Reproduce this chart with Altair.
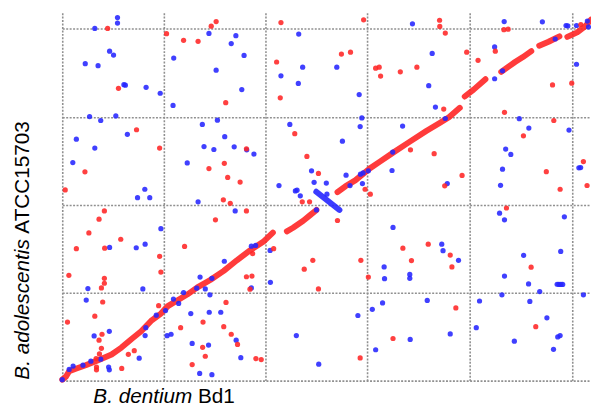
import altair as alt
import pandas as pd

# Positions along each genome (scaled units; gridlines mark equal genome intervals)
x_grid = [0, 103, 206, 309, 413, 517]
y_grid = [0, 89, 178.5, 267, 357]

blue_x = [56, 56, 33, 48, 52, 23.3, 36.3, 62.5, 64, 85, 99.3, 112.3, 113, 27.7, 54.3, 39, 66, 14.3, 33, 10.7,
          126.7, 83.7, 76.3, 88.7, 100, 48, 75, 84, 26, 81.7, 24.3, 47.7, 32.3, 84, 78, 47, 47.7, 106.3, 110.3, 130.3,
          131.7, 0, 7, 11, 21, 29, 39, 84.7, 95.3, 104.7, 112.7, 123, 118, 136.3, 151.7, 191.7, 196, 257.7,
          137.7, 175.3, 164.3, 139.7, 145, 191.7, 210.7, 211, 149.7, 149, 160.7, 176.3, 148.3, 181, 139.3, 151.7,
          237.3, 260, 148.7, 176, 171.3, 184.3, 156, 182, 239.7, 243.7, 221.7, 239.3, 142, 157.3, 164.7, 143.7,
          153.7, 174.3, 187, 194.3, 230.7, 252.7, 255.3, 219.7, 236.3, 238, 241.3, 267.7, 268.3,
          355, 278.3, 375, 371.5, 301, 378.3, 303.7, 302, 345, 284, 334.3, 287.7, 304.3, 390.3,
          291.7, 302.3, 305, 310.3, 335, 388.3,
          448, 486.7, 510.7, 512.5, 521.3, 532.3, 438.3, 438.3, 446.3, 499.7, 533.5, 521.3, 463.3, 473, 513.7,
          449.5, 454.7, 446.3, 523.7, 525.5, 444.3,
          317.7, 335.3, 384.7, 386, 401.7, 326.3, 352.3, 352.3, 326.7, 370, 324.7, 314.3, 299.7, 352.7, 393.3,
          443.3, 448.3, 509, 467.7, 505.3, 448.3, 472.7, 501.7, 503.5, 505.5, 507.3, 484, 445.7, 528.3, 423, 474,
          491.3, 419.7, 502.3, 504.7, 458.3, 498]
blue_y = [368, 362.5, 357, 334, 330, 321.3, 319.3, 300, 299.5, 297.3, 291.3, 279, 327, 267.7, 268.3, 263.7, 249.7,
          244.7, 235.7, 221, 220.7, 194, 185.5, 185.5, 154, 135, 134.7, 138.3, 93.3, 93, 81.7, 50, 45.3, 45.7, 22.7,
          13.7, 11, 45.5, 47, 68, 37.7, 1, 11.3, 14.7, 15.7, 19.7, 21.7, 53.7, 66.3, 71, 82.7, 89.3, 78.3, 93.7,
          103.7, 136.3, 137, 173,
          181.3, 172, 121, 105, 93, 94, 132, 99.7, 87, 69.3, 69.3, 41, 36, 23.3, 7.3, 6, 45.7, 16.7,
          352, 349.7, 341.7, 329.7, 314.7, 295, 351.3, 317.7, 309, 301.3, 259.7, 264, 247.3, 237.3, 234.3, 237,
          234, 229.7, 259.7, 212.7, 201, 197.7, 192.3, 193, 187.3, 200.3, 189,
          361.7, 317.7, 331.7, 299, 290, 277.3, 266.3, 257.5, 258, 242.7, 213, 208.3, 199.7, 199.7,
          197.7, 209.3, 210.5, 212.7, 231.7, 265.7,
          364, 363.7, 360, 359.5, 360, 364.5, 338.3, 306, 314, 346.3, 358.5, 320.7, 265.5, 256, 254, 234.7, 229.3,
          214.3, 215.7, 216, 198,
          31.3, 155.3, 138.3, 131.7, 122, 115.3, 107.7, 103.7, 103.3, 81.3, 78.7, 72.3, 66, 41.7, 47.3,
          169.7, 163, 166, 127, 131, 106, 98, 97.7, 97.5, 97.5, 97.5, 90.3, 87, 87, 80.7, 80.3, 63.7, 53.7, 44.3,
          45.7, 40, 31.7]

red_x = [46, 105.7, 123, 57, 75.3, 98.7, 23, 3, 42.7, 37.3, 27, 59.3, 14.3, 43, 98.7, 6.7, 42.7, 42.7, 39.7, 100,
         124, 41, 97.7, 5.3, 33, 40.3, 37.3, 39.7, 37.7, 73, 67, 34.3, 34.7, 34.7, 60.3, 120, 131.7,
         163.3, 170.3, 186.7, 155.3, 186.7, 192.3, 190.3, 193, 214.3, 245.3, 254, 259.7, 243.3, 250.7, 166, 142.7,
         163.7, 171.3, 177.7, 142.3, 145, 196.3, 201.7,
         156, 151, 137.7, 165.7, 221.7, 217.3, 221, 186.7, 164.3, 148.7, 167.7, 180.3, 235.7, 248, 259.7,
         305.5, 382.5, 382.7, 388.3, 283, 292.2, 317.7, 321.3, 322.7, 342.7, 359.5, 386.7, 353, 377, 405.3, 387.7,
         307, 312.3, 450.3, 410, 421.5, 447.7, 452, 439, 525.7, 516.5, 497, 448.3, 498.3, 467.5, 528.3, 490.7,
         504.7, 532,
         279, 302.7, 345.3, 371, 393.3, 395, 354, 310.3, 399, 335.3, 302, 475.3, 480]
red_y = [357, 351.7, 345, 296.3, 254.3, 235.7, 211.7, 193.3, 172, 163.7, 149.7, 143.3, 133.7, 134.3, 126, 106.7,
         103.7, 98.7, 94, 110, 136, 79.7, 76, 59.3, 65.3, 47, 41, 32.7, 27, 30.3, 26.7, 22.3, 13.7, 11, 12.3, 53.7,
         16.3,
         183.3, 179.7, 172, 163, 105.3, 106, 92.7, 128.7, 133.7, 113, 122, 93, 181.3, 181.3, 79.3, 59.3, 54.7, 47,
         36.7, 33.7, 24.7, 22.3, 21.3,
         364, 359.3, 344, 281.7, 363, 323, 286.7, 235, 220.3, 215, 206, 201.3, 250.3, 227.3, 210,
         365.7, 365.3, 359, 352.3, 331, 333, 316.7, 317.7, 308.7, 313, 317.7, 275.3, 234, 230, 208, 197.5,
         194, 189, 175, 333, 324.7, 355.7, 356.3, 334, 361, 301.5, 299.7, 272, 263.7, 248.2, 222, 211.8,
         194, 197.8,
         162.3, 122, 134.3, 138.3, 127.3, 115.3, 121.7, 105, 73.7, 42.7, 23, 115, 54.7]

# Collinear runs (polyline vertices) of matching segments, by run
run_ids = ["A"] * 22 + ["B"] * 5 + ["INV"] * 2 + ["C"] * 11 + ["E"] * 3 + ["F"] * 5 + ["G"] * 3 + ["H"] * 4
run_x = [0, 3.7, 7, 13.7, 23.7, 37, 50, 60, 70, 80, 90, 100, 107, 117, 127, 137, 150, 163.7, 177, 190.3, 203.7, 213.5,
         227.7, 234, 244.3, 251, 257.7,
         257.5, 281,
         279, 287, 297, 311.7, 322, 336, 352, 369, 383, 392, 403,
         408, 417, 429,
         445, 452, 459, 467, 475.5,
         483.5, 493, 504,
         512, 522, 530, 536]
run_y = [1, 4, 9.5, 12, 15.5, 21, 26.5, 33.5, 42, 50, 60.5, 68, 75.5, 81.5, 87.5, 94.5, 102, 111.3, 122, 132, 140.7, 150,
         151.3, 155, 162, 167.5, 173,
         191.5, 173,
         191, 197, 203, 215, 222, 231.5, 242, 253, 261.5, 267, 276.5,
         288, 295, 305.5,
         313, 318, 323, 328, 334,
         339.5, 343.5, 349,
         348.5, 353, 359, 366]

RED = "#ff2626"
BLUE = "#2626ff"

pts = pd.DataFrame({
    "x": blue_x + red_x,
    "y": blue_y + red_y,
    "strand": ["rev"] * len(blue_x) + ["fwd"] * len(red_x),
})
runs = pd.DataFrame({"x": run_x, "y": run_y, "run": run_ids,
                     "order": list(range(len(run_x)))})
runs["strand"] = ["rev" if r == "INV" else "fwd" for r in run_ids]

xs = alt.Scale(domain=[0, 536], nice=False, zero=False)
ys = alt.Scale(domain=[0, 373], nice=False, zero=False)
color = alt.Color("strand:N", scale=alt.Scale(domain=["fwd", "rev"], range=[RED, BLUE]), legend=None)

grid_axis = dict(grid=True, gridColor="#909090", gridDash=[2, 1.5], gridWidth=1.6,
                 labels=False, ticks=False, domain=False, title=None)

lines = alt.Chart(runs).mark_line(strokeWidth=6, strokeCap="round", strokeJoin="round", opacity=0.9).encode(
    x=alt.X("x:Q", scale=xs, axis=alt.Axis(values=x_grid, **grid_axis)),
    y=alt.Y("y:Q", scale=ys, axis=alt.Axis(values=y_grid, **grid_axis)),
    detail="run:N",
    order="order:Q",
    color=color,
)

dots = alt.Chart(pts).mark_circle(size=28, opacity=0.88).encode(
    x=alt.X("x:Q", scale=xs),
    y=alt.Y("y:Q", scale=ys),
    color=color,
)

FONT = "Liberation Sans"

ytitle_it = alt.Chart(pd.DataFrame({"t": ["B. adolescentis"]})).mark_text(
    angle=270, align="left", baseline="alphabetic", fontSize=21, font=FONT, fontStyle="italic", color="black"
).encode(text="t:N", x=alt.value(-34), y=alt.value(372))
ytitle_rm = alt.Chart(pd.DataFrame({"t": ["ATCC15703"]})).mark_text(
    angle=270, align="left", baseline="alphabetic", fontSize=21, font=FONT, color="black"
).encode(text="t:N", x=alt.value(-34), y=alt.value(224))
xtitle_it = alt.Chart(pd.DataFrame({"t": ["B. dentium"]})).mark_text(
    align="left", baseline="alphabetic", fontSize=21, font=FONT, fontStyle="italic", color="black"
).encode(text="t:N", x=alt.value(31.5), y=alt.value(396))
xtitle_rm = alt.Chart(pd.DataFrame({"t": ["Bd1"]})).mark_text(
    align="left", baseline="alphabetic", fontSize=21, font=FONT, color="black"
).encode(text="t:N", x=alt.value(137.5), y=alt.value(396))

chart = alt.layer(lines, dots, ytitle_it, ytitle_rm, xtitle_it, xtitle_rm).properties(
    width=536, height=373,
    autosize=alt.AutoSizeParams(type="none"),
    padding={"left": 55, "top": 2, "right": 0, "bottom": 23},
    background="white",
).configure_view(strokeWidth=0)

chart.save("out.html", embed_options={"renderer": "svg", "actions": False})
